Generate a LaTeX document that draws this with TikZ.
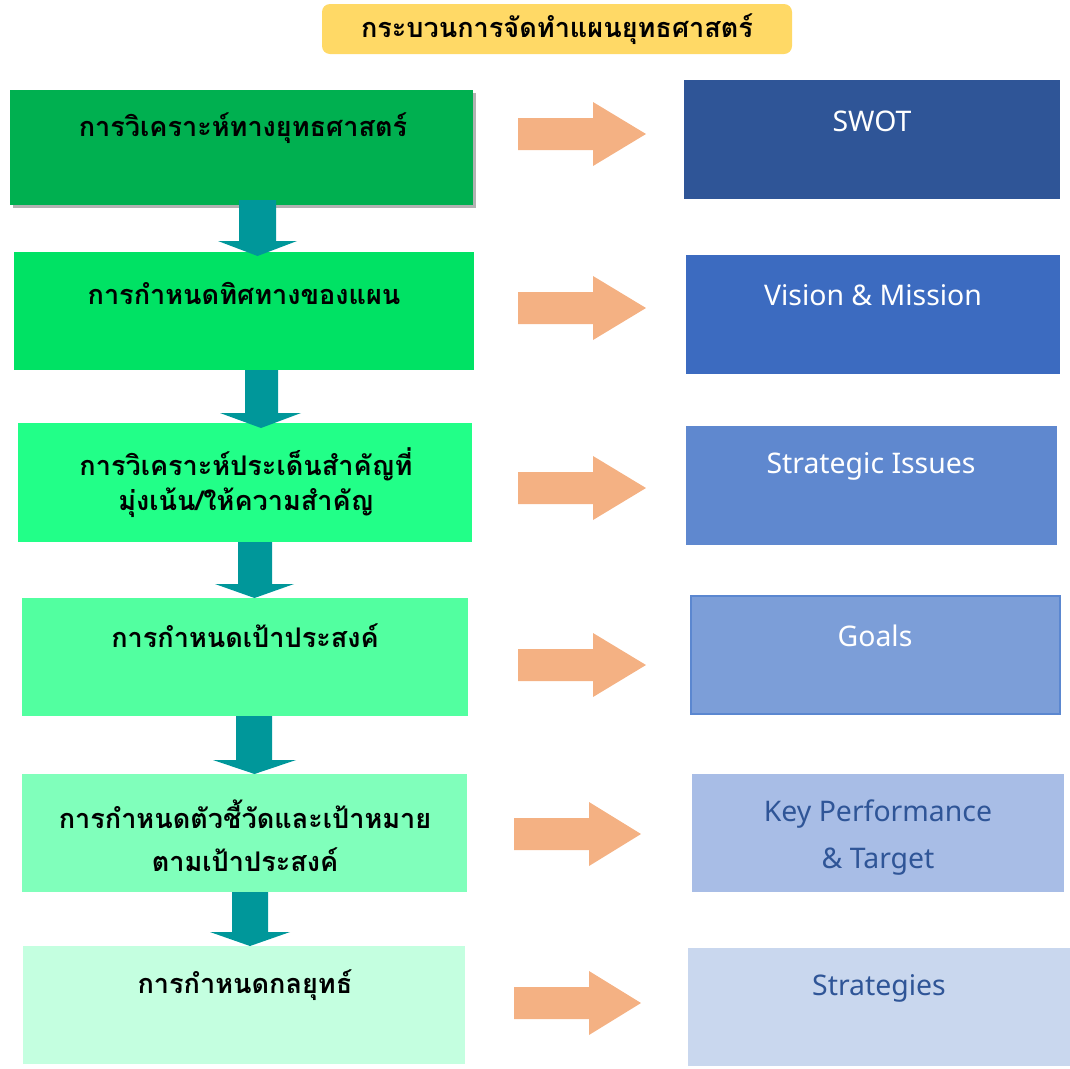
\documentclass[tikz,border=0pt]{standalone}
\usepackage{fontspec}
\setmainfont{Noto Sans}
\newfontfamily\thaifont[Script=Thai]{Loma}
\usetikzlibrary{fit,shadows}
\definecolor{titlebg}{HTML}{FFD966}
\definecolor{gA}{HTML}{00B050}
\definecolor{gB}{HTML}{00E264}
\definecolor{gC}{HTML}{22FF88}
\definecolor{gD}{HTML}{52FFA0}
\definecolor{gE}{HTML}{80FFBB}
\definecolor{gF}{HTML}{C4FFE0}
\definecolor{teal}{HTML}{00979A}
\definecolor{peach}{HTML}{F4B183}
\definecolor{bA}{HTML}{2F5597}
\definecolor{bB}{HTML}{3C6BC0}
\definecolor{bC}{HTML}{5F88CF}
\definecolor{bD}{HTML}{7C9ED8}
\definecolor{bDline}{HTML}{5B87D0}
\definecolor{bE}{HTML}{A8BDE6}
\definecolor{bF}{HTML}{C9D7EE}
\tikzset{
  x=0.75pt, y=-0.75pt,
  boxshape/.style={inner sep=0pt, outer sep=0pt, draw=none},
  thaitext/.style={font=\thaifont\bfseries\fontsize{20.3}{26.25}\selectfont, align=center, text=black, inner sep=0pt},
  thaiwide/.style={font=\thaifont\bfseries\fontsize{20.3}{32.25}\selectfont},
  engtext/.style={font=\fontsize{21.3}{35.25}\selectfont, align=center, text=white, inner sep=0pt},
  downarrow/.style={fill=teal, draw=none},
  rightarrow/.style={fill=peach, draw=none},
}
\begin{document}
\begin{tikzpicture}
\useasboundingbox (0,0) rectangle (1070,1068);
% title
\node[boxshape, fit={(322,4) (792,54)}, fill=titlebg, rounded corners=6pt] (T) {};
\node[thaitext] (Tt) at (557,29) {กระบวนการจัดทำแผนยุทธศาสตร์};
% left boxes
\node[boxshape, fit={(10,90) (473,205)}, fill=gA, drop shadow={shadow xshift=2.5pt, shadow yshift=-2.5pt, opacity=0.55, fill=black!55}] (L1) {};
\node[thaitext] (L1t) at (243,128) {การวิเคราะห์ทางยุทธศาสตร์};
\node[boxshape, fit={(14,252) (474,370)}, fill=gB] (L2) {};
\node[thaitext] (L2t) at (244,293) {การกำหนดทิศทางของแผน};
\node[boxshape, fit={(18,423) (472,542)}, fill=gC] (L3) {};
\node[thaitext] (L3t) at (246,482.5) {การวิเคราะห์ประเด็นสำคัญที่\\มุ่งเน้น/ให้ความสำคัญ};
\node[boxshape, fit={(22,598) (468,716)}, fill=gD] (L4) {};
\node[thaitext] (L4t) at (245,636) {การกำหนดเป้าประสงค์};
\node[boxshape, fit={(22,774) (467,892)}, fill=gE] (L5) {};
\node[thaitext, thaiwide] (L5t) at (245,835.5) {การกำหนดตัวชี้วัดและเป้าหมาย\\ตามเป้าประสงค์};
\node[boxshape, fit={(23,946) (465,1064)}, fill=gF] (L6) {};
\node[thaitext] (L6t) at (245,985) {การกำหนดกลยุทธ์};
% right boxes
\node[boxshape, fit={(684,80) (1060,199)}, fill=bA] (R1) {};
\node[engtext] (R1t) at (872,121) {SWOT};
\node[boxshape, fit={(686,255) (1060,374)}, fill=bB] (R2) {};
\node[engtext] (R2t) at (873,295) {Vision \& Mission};
\node[boxshape, fit={(686,426) (1057,545)}, fill=bC] (R3) {};
\node[engtext] (R3t) at (871,466) {Strategic Issues};
\node[boxshape, fit={(691,596) (1060,714)}, fill=bD, draw=bDline, line width=1pt] (R4) {};
\node[engtext] (R4t) at (875,636) {Goals};
\node[boxshape, fit={(692,774) (1064,892)}, fill=bE] (R5) {};
\node[engtext, text=bA] (R5t) at (878,838) {Key Performance\\\& Target};
\node[boxshape, fit={(688,948) (1070,1066)}, fill=bF] (R6) {};
\node[engtext, text=bA] (R6t) at (879,988) {Strategies};
% down arrows
\fill[downarrow] (239,200) -- (239,241) -- (218,241) -- (257.5,256) -- (297,241) -- (276,241) -- (276,200) -- cycle;
\fill[downarrow] (245,370) -- (245,413) -- (220,413) -- (261,428) -- (301,413) -- (278,413) -- (278,370) -- cycle;
\fill[downarrow] (238,542) -- (238,584) -- (215,584) -- (254.5,598) -- (294,584) -- (272,584) -- (272,542) -- cycle;
\fill[downarrow] (236,716) -- (236,760) -- (213,760) -- (254.5,774) -- (296,760) -- (272,760) -- (272,716) -- cycle;
\fill[downarrow] (232,892) -- (232,932) -- (210,932) -- (250,946) -- (290,932) -- (268,932) -- (268,892) -- cycle;
% right arrows
\foreach \yc/\xa/\xb/\xt in {134/518/593/646, 308/518/593/646, 488/518/593/646, 665/518/593/646, 834/514/589/641, 1003/514/589/641}{
  \fill[rightarrow] (\xa,\yc-16) -- (\xb,\yc-16) -- (\xb,\yc-32) -- (\xt,\yc) -- (\xb,\yc+32) -- (\xb,\yc+16) -- (\xa,\yc+16) -- cycle;
}
\end{tikzpicture}
\end{document}
